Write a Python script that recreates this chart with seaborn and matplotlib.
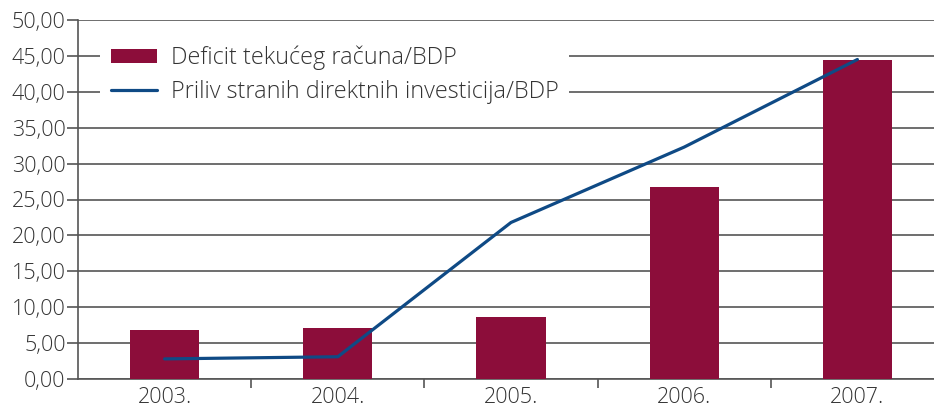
import matplotlib
matplotlib.use("Agg")
import matplotlib.pyplot as plt
import seaborn as sns
import numpy as np
import pandas as pd
from matplotlib.ticker import FixedLocator, FuncFormatter
from matplotlib.patches import Patch
from matplotlib.lines import Line2D

years = ["2003.", "2004.", "2005.", "2006.", "2007."]
deficit = [6.8, 7.1, 8.6, 26.7, 44.4]
fdi = [2.8, 3.1, 21.8, 32.3, 44.5]
yticks = [0, 5, 10, 15, 20, 25, 30, 35, 40, 45, 50]
legend_labels = ["Deficit tekućeg računa/BDP", "Priliv stranih direktnih investicija/BDP"]

BAR = "#8C0D3A"
LINE = "#0F4A85"
GRID = "#555555"
TXT = "#333333"

sns.set_theme(style="white")
plt.rcParams["font.family"] = ["Open Sans", "DejaVu Sans"]

fig = plt.figure(figsize=(9.34, 4.08), dpi=100)
L, R = 78, 944
ax = fig.add_axes([L/934, 1-379/408, (R-L)/934, (379-20)/408])

df = pd.DataFrame({"year": years, "deficit": deficit, "fdi": fdi, "pos": np.arange(len(years))})
sns.barplot(data=df, x="year", y="deficit", color=BAR, saturation=1, width=0.4, ax=ax,
            zorder=3, edgecolor="none", linewidth=0)
sns.lineplot(data=df, x="pos", y="fdi", color=LINE, linewidth=2.3, ax=ax, zorder=4)

ax.set_xlim(-0.5, len(years) - 0.5)
ax.set_ylim(0, 50)
ax.set_yticks(yticks)
ax.yaxis.set_major_formatter(FuncFormatter(lambda v, p: f"{v:.2f}".replace(".", ",")))
ax.set_xticks(np.arange(len(years)))
ax.set_xticklabels(years)
ax.xaxis.set_minor_locator(FixedLocator(np.arange(0.5, len(years) - 0.5, 1)))
ax.set_xlabel("")
ax.set_ylabel("")

ax.yaxis.grid(True, color=GRID, linewidth=1.2, zorder=0)
ax.set_axisbelow(True)
for s in ["top", "right"]:
    ax.spines[s].set_visible(False)
for s in ["left", "bottom"]:
    ax.spines[s].set_color(GRID)
    ax.spines[s].set_linewidth(1.2)

ax.tick_params(axis="y", which="major", left=True, length=8, width=1.2, color=GRID,
               labelsize=15.5, labelcolor=TXT, pad=1)
ax.tick_params(axis="x", which="major", bottom=False, length=0, labelsize=15.5,
               labelcolor=TXT, pad=5.5)
ax.tick_params(axis="x", which="minor", bottom=True, length=6.5, width=1.2, color=GRID)
for lab in ax.get_yticklabels() + ax.get_xticklabels():
    lab.set_fontweight("light")

handles = [Patch(facecolor=BAR, edgecolor="none"),
           Line2D([0], [0], color=LINE, linewidth=2.3)]
leg = ax.legend(handles, legend_labels, loc="upper left",
                bbox_to_anchor=((100-L)/(R-L), (379-35)/359), frameon=True,
                prop={"size": 16.8, "weight": "light"},
                handlelength=2.0, handleheight=0.55, handletextpad=0.6,
                borderpad=0.45, labelspacing=0.42, borderaxespad=0)
leg.get_frame().set_facecolor("white")
leg.get_frame().set_edgecolor("none")
leg.get_frame().set_alpha(1)
leg.set_zorder(5)
for t in leg.get_texts():
    t.set_color(TXT)

fig.savefig("out.png", dpi=100)
